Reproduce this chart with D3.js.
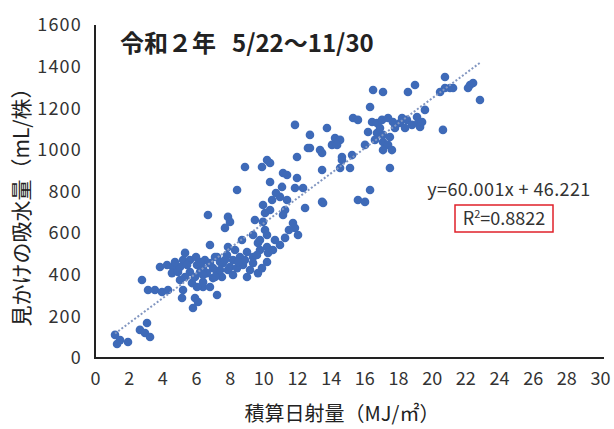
<!DOCTYPE html>
<html>
<head>
<meta charset="utf-8">
<script src="https://cdn.jsdelivr.net/npm/d3@7"></script>
<style>
  html, body { margin: 0; padding: 0; background: #fff; }
  svg { display: block; }
  text { font-family: "Noto Sans CJK JP", "Noto Sans", sans-serif; }
</style>
</head>
<body>
<svg id="chart" width="614" height="429"></svg>
<script>
// Cumulative solar radiation (MJ/m²) per day
const radiation = [
  1.19, 1.49, 1.31, 1.96, 2.67, 3.09, 2.97, 3.27, 2.79, 3.15,
  3.56, 3.98, 4.34, 3.86, 4.28, 4.63, 4.57, 4.93, 5.05, 5.23,
  5.17, 5.76, 5.94, 6.12, 5.82, 6.42, 7.25, 6.83, 5.35, 5.23,
  5.64, 6.06, 6.42, 6.83, 7.25, 7.60, 7.90, 7.25, 6.65, 6.24,
  5.64, 5.05, 5.35, 5.94, 7.01, 7.54, 6.42, 6.83, 6.06, 6.53,
  7.13, 7.43, 7.84, 8.20, 8.61, 9.03, 9.39, 9.80, 10.22, 9.68,
  7.43, 8.02, 8.79, 9.39, 10.22, 6.42, 7.13, 8.20, 9.03, 9.68,
  10.28, 10.57, 7.90, 10.99, 8.73, 9.39, 9.80, 8.32, 7.72, 7.90,
  8.02, 6.71, 9.50, 10.10, 10.40, 10.10, 10.22, 11.29, 11.17, 11.76,
  11.88, 12.06, 12.48, 13.49, 9.98, 10.52, 10.99, 11.41, 11.88, 12.36,
  8.44, 11.11, 10.75, 11.17, 11.41, 12.00, 10.40, 8.91, 9.92, 10.22,
  10.40, 11.88, 12.77, 13.78, 12.65, 13.37, 13.49, 12.00, 13.49, 14.26,
  14.56, 14.08, 14.38, 14.67, 15.27, 14.56, 15.15, 14.67, 17.52, 16.34,
  15.62, 16.04, 13.55, 16.52, 17.11, 18.59, 19.01, 16.34, 15.33, 15.62,
  16.46, 16.75, 17.05, 17.41, 17.70, 18.12, 18.53, 19.13, 19.19, 19.31,
  16.22, 16.75, 17.11, 17.52, 16.63, 17.11, 17.41, 17.64, 17.11, 16.04,
  20.79, 20.50, 20.79, 21.09, 21.27, 22.28, 22.46, 22.16, 22.87, 19.60,
  20.67, 19.43, 12.77, 4.75, 5.47, 6.24, 7.01, 8.44, 8.91, 9.21,
  9.92, 9.62, 8.50, 6.00, 7.72, 10.69, 9.98, 11.52, 11.29, 17.82,
  18.24, 18.83, 16.93, 18.42
];

// Apparent water uptake (mL per plant) per day
const uptake = [
  111, 86, 67, 77, 135, 168, 120, 101, 375, 327,
  327, 317, 327, 437, 447, 437, 408, 413, 375, 327,
  288, 360, 288, 269, 240, 341, 303, 543, 505, 471,
  471, 447, 432, 456, 485, 456, 423, 408, 408, 413,
  413, 437, 389, 389, 384, 389, 365, 341, 341, 471,
  485, 461, 495, 471, 485, 509, 485, 519, 533, 553,
  423, 437, 447, 456, 461, 399, 389, 399, 389, 408,
  505, 519, 533, 543, 567, 591, 567, 519, 625, 678,
  654, 687, 663, 697, 711, 615, 591, 711, 687, 649,
  625, 591, 721, 750, 735, 759, 774, 759, 817, 817,
  807, 822, 793, 889, 879, 865, 846, 918, 918, 951,
  937, 1120, 1072, 1105, 1009, 999, 985, 966, 903, 1057,
  1048, 1024, 1024, 966, 975, 913, 913, 951, 913, 807,
  759, 750, 745, 1288, 1278, 1278, 1312, 1206, 1153, 1144,
  1134, 1129, 1144, 1153, 1134, 1129, 1144, 1158, 1129, 1110,
  1086, 1081, 1072, 1062, 1048, 1038, 1024, 999, 999, 1024,
  1350, 1278, 1297, 1297, 1297, 1312, 1321, 1297, 1240, 1192,
  1096, 1134, 1009, 461, 447, 461, 432, 432, 471, 423,
  432, 495, 461, 485, 471, 567, 654, 615, 577, 1105,
  1153, 1120, 1105, 1105
];

const xTicks = [0, 2, 4, 6, 8, 10, 12, 14, 16, 18, 20, 22, 24, 26, 28, 30];
const yTicks = [0, 200, 400, 600, 800, 1000, 1200, 1400, 1600];

// Linear trendline fitted to the daily values
const slope = 60.001;
const intercept = 46.221;
const rSquared = 0.8822;

const titleEra = "令和２年";
const titlePeriod = "5/22～11/30";
const xTitle = "積算日射量（MJ/㎡）";
const yTitle = "見かけの吸水量（mL/株）";

const points = radiation.map((r, i) => ({ x: r, y: uptake[i] }));

const svg = d3.select("#chart");

const x = d3.scaleLinear().domain([0, 30]).range([95, 600]);
const y = d3.scaleLinear().domain([0, 1600]).range([358, 25]);

// Axes
const xAxis = svg.append("g")
  .attr("transform", `translate(0,${y(0)})`)
  .call(d3.axisBottom(x).tickValues(xTicks).tickSize(0).tickPadding(14).tickFormat(d3.format("d")));
xAxis.select(".domain").attr("stroke", "#222").attr("stroke-width", 2)
  .attr("d", `M${x(0) - 1},0H${x(30) + 4}`);
xAxis.selectAll("text").attr("font-size", 18).attr("fill", "#333");

const yAxis = svg.append("g")
  .attr("transform", `translate(${x(0)},0)`)
  .call(d3.axisLeft(y).tickValues(yTicks).tickSize(0).tickPadding(13).tickFormat(d3.format("d")));
yAxis.select(".domain").attr("stroke", "#222").attr("stroke-width", 2)
  .attr("d", `M0,${y(1600)}V${y(0) + 1}`);
yAxis.selectAll("text").attr("font-size", 18).attr("fill", "#333")
  .attr("letter-spacing", 1.2);

// Scatter points
svg.append("g")
  .selectAll("circle")
  .data(points)
  .join("circle")
  .attr("cx", d => x(d.x))
  .attr("cy", d => y(d.y))
  .attr("r", 4.3)
  .attr("fill", "#3e6ab8");

// Trendline across the observed range
const xExtent = d3.extent(radiation);
const trend = xExtent.map(v => ({ x: v, y: slope * v + intercept }));
svg.append("path")
  .datum(trend)
  .attr("d", d3.line().x(d => x(d.x)).y(d => y(d.y)))
  .attr("stroke", "#8296c0")
  .attr("stroke-width", 2)
  .attr("stroke-dasharray", "2,2")
  .attr("fill", "none");

// Title
const title = svg.append("text")
  .attr("y", 52)
  .attr("font-size", 24)
  .attr("font-weight", "bold")
  .attr("fill", "#222");
title.append("tspan").attr("x", 120).text(titleEra);
title.append("tspan").attr("x", 232).text(titlePeriod);

// Regression equation and R²
svg.append("text")
  .attr("x", 509)
  .attr("y", 196)
  .attr("text-anchor", "middle")
  .attr("font-size", 18)
  .attr("letter-spacing", 0.4)
  .attr("fill", "#333")
  .text(`y=${slope.toFixed(3)}x + ${intercept.toFixed(3)}`);

const rText = svg.append("text")
  .attr("x", 504)
  .attr("y", 225)
  .attr("text-anchor", "middle")
  .attr("font-size", 18)
  .attr("fill", "#333");
rText.append("tspan").text("R");
rText.append("tspan").attr("font-size", 11).attr("dy", -7).text("2");
rText.append("tspan").attr("dy", 7).text(`=${rSquared.toFixed(4)}`);

svg.append("rect")
  .attr("x", 455)
  .attr("y", 205)
  .attr("width", 98)
  .attr("height", 27)
  .attr("fill", "none")
  .attr("stroke", "#e0202a")
  .attr("stroke-width", 1.5);

// Axis titles
svg.append("text")
  .attr("x", 342)
  .attr("y", 421)
  .attr("text-anchor", "middle")
  .attr("font-size", 20)
  .attr("fill", "#222")
  .text(xTitle);

svg.append("text")
  .attr("transform", "translate(29,202) rotate(-90)")
  .attr("text-anchor", "middle")
  .attr("font-size", 21)
  .attr("fill", "#222")
  .text(yTitle);
</script>
</body>
</html>
